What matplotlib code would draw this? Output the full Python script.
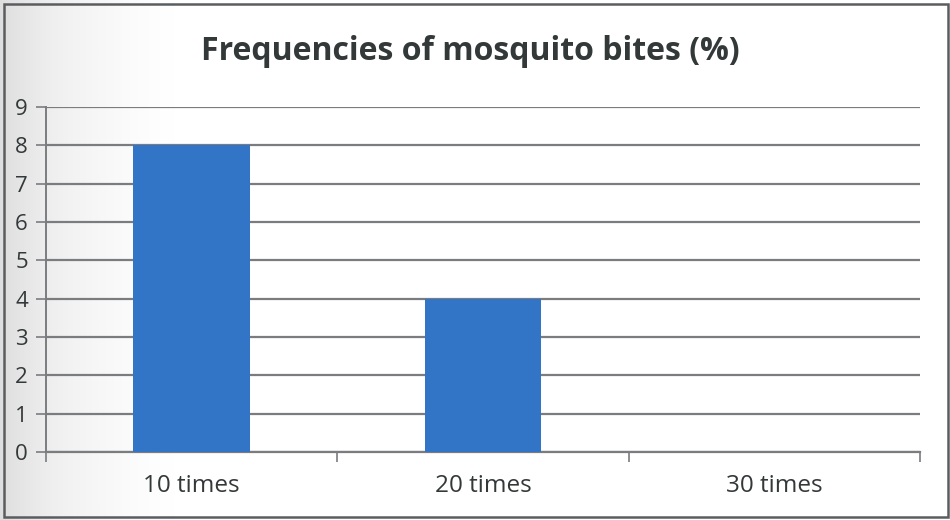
import numpy as np
import matplotlib.pyplot as plt
from matplotlib.patches import Rectangle

# Chart data
categories = ["10 times", "20 times", "30 times"]
values = [8, 4, 0]
y_ticks = list(range(0, 10))

bar_color = "#3274c6"
grid_color = "#7a7c80"
text_color = "#333839"

fig = plt.figure(figsize=(9.5, 5.2), dpi=100)

# soft grey shading along the left edge of the page
shade = fig.add_axes([0, 0, 0.2, 1], zorder=0)
grad = np.linspace(1, 0, 256) ** 1.6
shade.imshow(grad[np.newaxis, :], aspect="auto", cmap="Greys", vmin=0, vmax=4.5,
             extent=[0, 1, 0, 1])
shade.axis("off")

ax = fig.add_axes([46 / 950, 1 - 452 / 520, 874 / 950, 345 / 520], zorder=1)
ax.patch.set_alpha(0)

x = np.arange(len(categories))
ax.bar(x, values, width=0.4, color=bar_color, zorder=3)

ax.set_xlim(-0.5, len(categories) - 0.5)
ax.set_ylim(0, 9)
ax.set_yticks(y_ticks)
ax.set_yticklabels([str(v) for v in y_ticks], fontsize=16, color=text_color,
                   family="Open Sans")
ax.yaxis.grid(True, color=grid_color, linewidth=1.6, zorder=1)

# category labels sit between the boundary ticks
ax.set_xticks(x)
ax.set_xticklabels(categories, fontsize=17.5, color=text_color, family="Open Sans")
ax.tick_params(axis="x", length=0, pad=16)
ax.set_xticks(np.arange(len(categories) + 1) - 0.5, minor=True)
ax.tick_params(axis="x", which="minor", length=7, width=1.2, color=grid_color,
               direction="out")
ax.tick_params(axis="y", length=7, width=1.2, color=grid_color, pad=6)

for side in ["top", "right"]:
    ax.spines[side].set_visible(False)
ax.spines["left"].set_color(grid_color)
ax.spines["left"].set_linewidth(1.4)
ax.spines["bottom"].set_color(grid_color)
ax.spines["bottom"].set_linewidth(1.6)

fig.text(470 / 950, 1 - 52 / 520, "Frequencies of mosquito bites (%)",
         ha="center", va="center", fontsize=23, fontweight="bold",
         color=text_color, family="Open Sans")

# page frame
fig.patches.append(Rectangle((4 / 950, 3 / 520), 944 / 950, 513 / 520,
                             transform=fig.transFigure, fill=False,
                             edgecolor="#5a5d60", linewidth=1.8, zorder=5))

fig.savefig("out.png", dpi=100)
